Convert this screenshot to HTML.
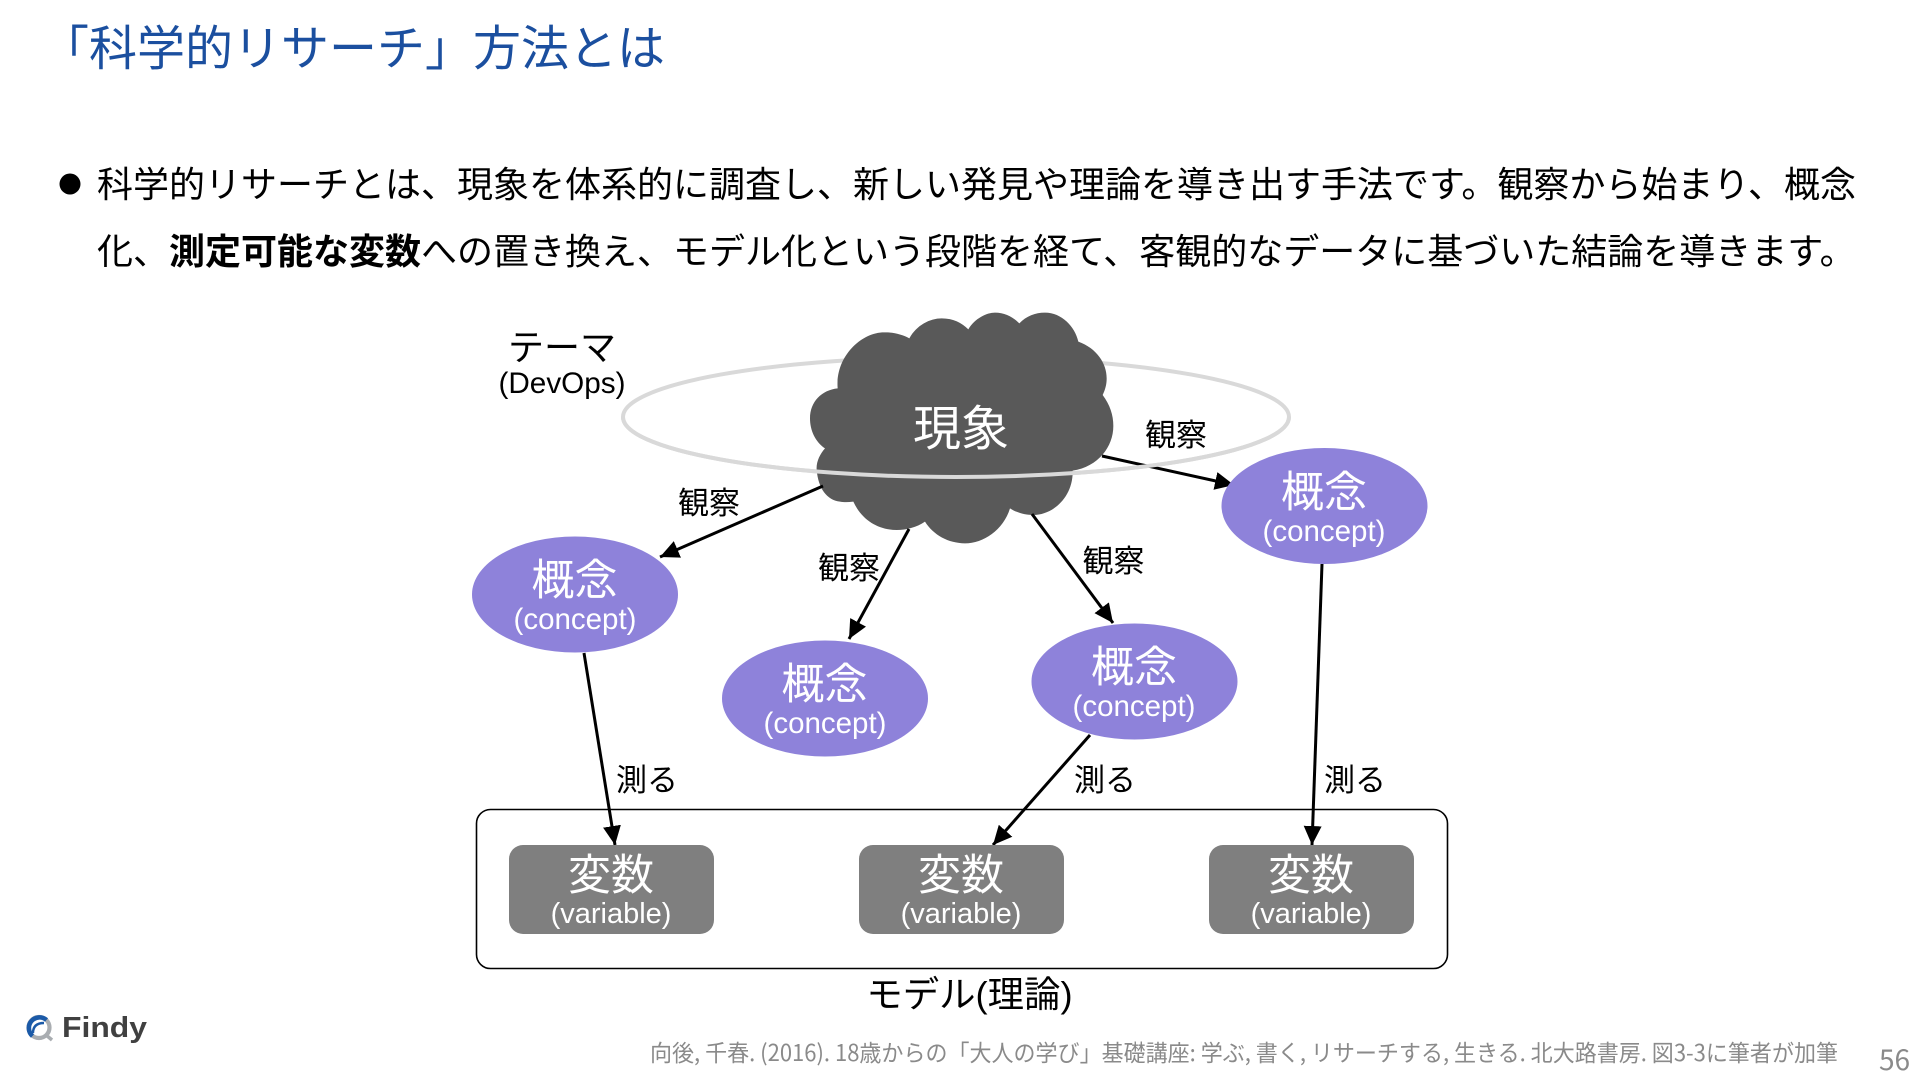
<!DOCTYPE html>
<html lang="ja">
<head>
<meta charset="utf-8">
<title>「科学的リサーチ」方法とは</title>
<style>
html,body{margin:0;padding:0;background:#fff;width:1920px;height:1080px;overflow:hidden}
svg{display:block;position:absolute;left:0;top:0}
text{font-family:"Noto Sans CJK JP","Liberation Sans",sans-serif}
.d{font-family:"Liberation Sans","Noto Sans CJK JP",sans-serif;text-anchor:middle}
.w{fill:#fff}
</style>
</head>
<body>
<svg width="1920" height="1080" viewBox="0 0 1920 1080" xmlns="http://www.w3.org/2000/svg">
<defs>
<marker id="a" markerUnits="userSpaceOnUse" markerWidth="20" markerHeight="18" refX="19" refY="9" orient="auto">
<path d="M0 0L19 9L0 18z" fill="#000"/>
</marker>
</defs>

<text x="41" y="65.2" font-size="48" fill="#1b4f9f">「科学的リサーチ」方法とは</text>

<circle cx="70" cy="184" r="10.5" fill="#000"/>
<text x="97" y="197" font-size="36" fill="#000">科学的リサーチとは、現象を体系的に調査し、新しい発見や理論を導き出す手法です。観察から始まり、概念</text>
<text x="97" y="264" font-size="36" fill="#000">化、<tspan font-weight="700">測定可能な変数</tspan>への置き換え、モデル化という段階を経て、客観的なデータに基づいた結論を導きます。</text>

<ellipse cx="956" cy="417" rx="333" ry="60" fill="none" stroke="#d9d9d9" stroke-width="4"/>

<g transform="translate(790 300) scale(.33333)">
<path fill="#595959" d="M143 265C135 170 215 95 285 97C315 97 340 105 358 115C380 75 420 55 455 55C490 55 515 68 535 88C555 55 590 38 615 38C645 38 670 52 688 70C710 48 735 38 765 38C815 38 855 80 865 125C920 145 950 190 950 235C950 255 945 270 938 285C960 315 970 345 970 378C970 440 925 500 848 512C850 590 790 645 730 645C705 645 680 638 660 625C640 690 580 730 525 730C475 730 430 705 405 665C380 682 350 690 320 690C265 690 215 660 190 605C175 607 160 607 150 605C110 600 85 565 80 510C78 485 90 462 105 445C75 425 60 390 60 355C60 305 95 270 143 265Z"/>
</g>

<g stroke="#000" stroke-width="3" fill="none">
<line x1="823" y1="486" x2="660" y2="557" marker-end="url(#a)"/>
<line x1="909" y1="529" x2="849" y2="639" marker-end="url(#a)"/>
<line x1="1032" y1="514" x2="1113" y2="623" marker-end="url(#a)"/>
<line x1="1102" y1="456" x2="1234" y2="485" marker-end="url(#a)"/>
<line x1="1322" y1="564" x2="1312" y2="845" marker-end="url(#a)"/>
<line x1="584" y1="653" x2="615" y2="845" marker-end="url(#a)"/>
<line x1="1090" y1="735" x2="993" y2="845" marker-end="url(#a)"/>
</g>

<path d="M623 417A333 60 0 0 0 1289 417" fill="none" stroke="#d9d9d9" stroke-width="4"/>

<rect x="476.5" y="809.5" width="971" height="159" rx="14" fill="none" stroke="#000" stroke-width="1.6"/>

<g fill="#8e82da">
<ellipse cx="1324.5" cy="506" rx="103" ry="58"/>
<ellipse cx="575" cy="594.5" rx="103" ry="58"/>
<ellipse cx="825" cy="698.5" rx="103" ry="58"/>
<ellipse cx="1134.5" cy="681.5" rx="103" ry="58"/>
</g>

<g fill="#7f7f7f">
<rect x="509" y="845" width="205" height="89" rx="14"/>
<rect x="859" y="845" width="205" height="89" rx="14"/>
<rect x="1209" y="845" width="205" height="89" rx="14"/>
</g>

<text class="d w" x="961" y="445" font-size="48">現象</text>

<g font-size="43">
<text class="d w" x="1324" y="507">概念</text>
<text class="d w" x="574.5" y="595">概念</text>
<text class="d w" x="824.5" y="699">概念</text>
<text class="d w" x="1134" y="682">概念</text>
<text class="d w" x="611" y="890">変数</text>
<text class="d w" x="961" y="890">変数</text>
<text class="d w" x="1311" y="890">変数</text>
</g>
<g font-size="29.5">
<text class="d w" x="1324" y="541">(concept)</text>
<text class="d w" x="575" y="629">(concept)</text>
<text class="d w" x="825" y="733">(concept)</text>
<text class="d w" x="1134" y="716">(concept)</text>
</g>
<g font-size="29">
<text class="d w" x="611" y="923">(variable)</text>
<text class="d w" x="961" y="923">(variable)</text>
<text class="d w" x="1311" y="923">(variable)</text>
</g>

<g font-size="31" fill="#000">
<text class="d" x="1176" y="446">観察</text>
<text class="d" x="709" y="514">観察</text>
<text class="d" x="849" y="579">観察</text>
<text class="d" x="1113.500" y="572">観察</text>
<text class="d" x="647" y="791">測る</text>
<text class="d" x="1105" y="791">測る</text>
<text class="d" x="1355" y="791">測る</text>
</g>

<text class="d" x="562" y="360" font-size="36" fill="#000">テーマ</text>
<text class="d" x="562" y="393" font-size="29.7" fill="#000">(DevOps)</text>
<text class="d" x="969.500" y="1007" font-size="36.4" fill="#000">モデル(理論)</text>

<text x="650" y="1061" font-size="23" fill="#8a8a8a" textLength="1188" lengthAdjust="spacingAndGlyphs">向後, 千春. (2016). 18歳からの「大人の学び」基礎講座: 学ぶ, 書く, リサーチする, 生きる. 北大路書房. 図3-3に筆者が加筆</text>
<text x="1879" y="1070" font-size="28" fill="#8a8a8a">56</text>

<circle cx="39" cy="1027.500" r="10.500" fill="none" stroke="#a9adb1" stroke-width="4.200"/>
<path d="M46.500 1020A10.500 10.500 0 1 0 32.500 1036" fill="none" stroke="#1b5aa8" stroke-width="4.600"/>
<path d="M33 1033C33 1026 37 1023 44 1023" fill="none" stroke="#1b5aa8" stroke-width="2.400"/>
<path d="M46 1035L52 1040" fill="none" stroke="#a9adb1" stroke-width="3.500"/>
<text x="62" y="1037" font-size="29" font-weight="700" fill="#404040" style="font-family:'Liberation Sans',sans-serif" textLength="85" lengthAdjust="spacingAndGlyphs">Findy</text>
</svg>
</body>
</html>
